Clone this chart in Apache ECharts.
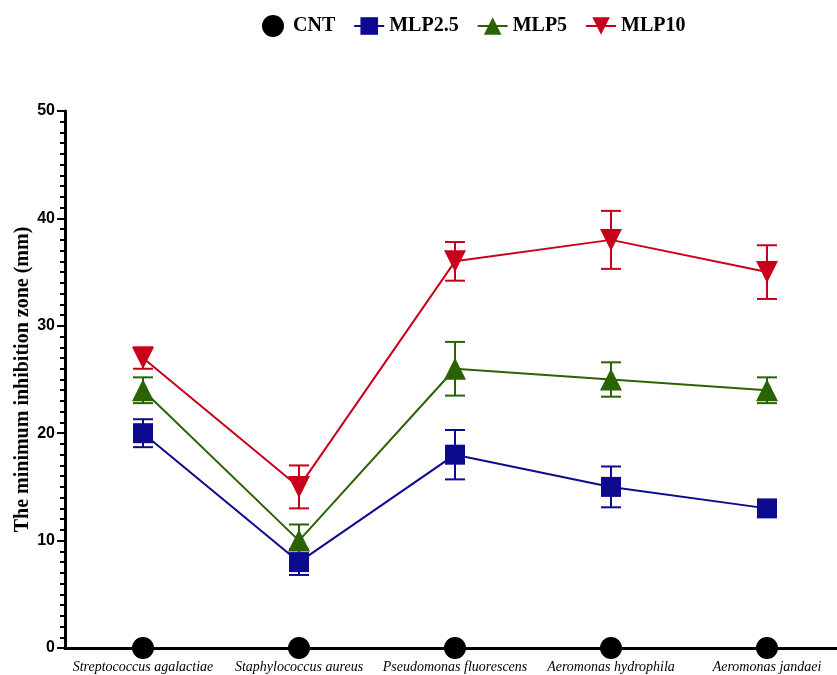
<!DOCTYPE html>
<html><head><meta charset="utf-8">
<script src="https://cdn.jsdelivr.net/npm/echarts@6/dist/echarts.min.js"></script>
<style>html,body{margin:0;padding:0;background:#fff}#c{width:837px;height:675px}</style>
</head><body><div id="c"></div>
<script>
const categories = ['Streptococcus agalactiae','Staphylococcus aureus','Pseudomonas fluorescens','Aeromonas hydrophila','Aeromonas jandaei'];
const seriesNames = ['CNT','MLP2.5','MLP5','MLP10'];
const cnt = [0,0,0,0,0];
const cntErr = [0,0,0,0,0];
const mlp25 = [20,8,18,15,13];
const mlp25Err = [1.3,1.2,2.3,1.9,0.5];
const mlp5 = [24,10,26,25,24];
const mlp5Err = [1.2,1.5,2.5,1.6,1.2];
const mlp10 = [27,15,36,38,35];
const mlp10Err = [1.0,2.0,1.8,2.7,2.5];
const yTicks = [0,10,20,30,40,50];

const colors = ['#000000','#0c0a8e','#2b6202','#c9001b'];
const serif = '"Times New Roman","Liberation Serif",serif';
const sans = 'Arial,"Liberation Sans",sans-serif';
const values = [cnt,mlp25,mlp5,mlp10];
const errs = [cntErr,mlp25Err,mlp5Err,mlp10Err];
const symbols = ['circle','rect','triangle','path://M0,0 L10,0 L5,9 Z'];
const sizes = [22,20,22,22];

const chart = echarts.init(document.getElementById('c'));
const series = [];
values.forEach((v,i)=>{
  if(i>0){
    series.push({
      type:'custom', name:seriesNames[i]+'_err', z:3, silent:true,
      data: v.map((y,k)=>[k,y-errs[i][k],y+errs[i][k]]),
      renderItem:(params,api)=>{
        const lo=api.coord([api.value(0),api.value(1)]);
        const hi=api.coord([api.value(0),api.value(2)]);
        const w=10;
        const st={stroke:colors[i],lineWidth:2};
        return {type:'group',children:[
          {type:'line',shape:{x1:lo[0],y1:lo[1],x2:hi[0],y2:hi[1]},style:st},
          {type:'line',shape:{x1:lo[0]-w,y1:lo[1],x2:lo[0]+w,y2:lo[1]},style:st},
          {type:'line',shape:{x1:hi[0]-w,y1:hi[1],x2:hi[0]+w,y2:hi[1]},style:st}
        ]};
      }
    });
  }
  series.push({
    type:'line', name:seriesNames[i], data:v, z:4+i,
    symbol:symbols[i], symbolSize:sizes[i], showSymbol:true,
    clip:false,
    itemStyle:{color:colors[i]},
    lineStyle:{color:colors[i],width:2},
    emphasis:{disabled:true}
  });
});

const legendData = seriesNames.map((n,i)=> i===0 ? {name:n, icon:'circle', itemStyle:{color:'#000'}} : n);

chart.setOption({
  animation:false,
  backgroundColor:'#fff',
  legend:{
    data:legendData, top:10, left:257, itemGap:18, itemWidth:30, itemHeight:22,
    textStyle:{fontFamily:serif,fontWeight:'bold',fontSize:20,color:'#000'}
  },
  grid:{left:65,right:-8,top:111,bottom:27,containLabel:false,outerBoundsMode:'none'},
  xAxis:{
    type:'category', data:categories, boundaryGap:true,
    axisLine:{show:true,lineStyle:{color:'#000',width:3}},
    axisTick:{show:false},
    axisLabel:{fontFamily:serif,fontStyle:'italic',fontSize:14,color:'#000',margin:12,interval:0}
  },
  yAxis:{
    type:'value', min:0, max:50, interval:10,
    name:'The minimum inhibition zone (mm)', nameLocation:'middle', nameGap:32, nameMoveOverlap:false,
    nameTextStyle:{fontFamily:serif,fontWeight:'bold',fontSize:20,color:'#000'},
    axisLine:{show:true,lineStyle:{color:'#000',width:3}},
    axisTick:{show:true,length:8,lineStyle:{color:'#000',width:2}},
    minorTick:{show:true,splitNumber:10,length:5,lineStyle:{color:'#000',width:2}},
    splitLine:{show:false},
    axisLabel:{fontFamily:sans,fontWeight:'bold',fontSize:16,color:'#000',margin:10,
      formatter:v=>yTicks.includes(v)?String(v):''}
  },
  series:series
});
</script></body></html>
